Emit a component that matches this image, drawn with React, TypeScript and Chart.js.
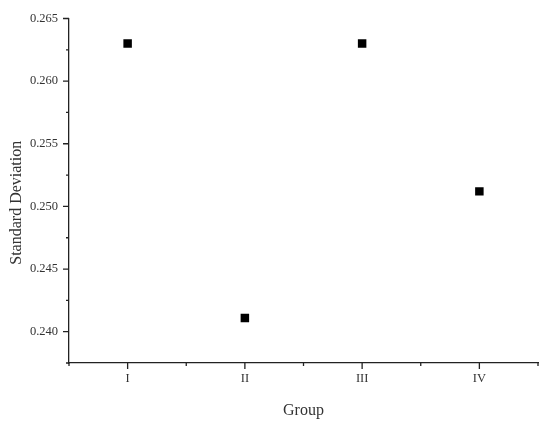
import React, { useEffect, useRef } from "react";
import { Chart, registerables } from "chart.js";

Chart.register(...registerables);

const categories = ["I", "II", "III", "IV"];
const stdDev = [0.263, 0.2411, 0.263, 0.2512];
const yMajorTicks = [0.24, 0.245, 0.25, 0.255, 0.26, 0.265];
const yMinorTicks = [0.2375, 0.2425, 0.2475, 0.2525, 0.2575, 0.2625];
const xMajorTicks = [1, 2, 3, 4];
const xMinorTicks = [0.5, 1.5, 2.5, 3.5, 4.5];
const xRange = [0.5, 4.5];
const yRange = [0.2375, 0.265];
const xTitle = "Group";
const yTitle = "Standard Deviation";

const FONT = "'Liberation Serif', 'DejaVu Serif', serif";
const AXIS_COLOR = "#222";
const TEXT_COLOR = "#333";

const tickPlugin = {
  id: "customTicks",
  afterDraw(chart: any) {
    const { ctx, chartArea, scales } = chart;
    const xs = scales.x;
    const ys = scales.y;
    ctx.save();
    ctx.strokeStyle = AXIS_COLOR;
    ctx.lineWidth = 1.3;
    ctx.beginPath();
    yMajorTicks.forEach((v) => {
      const p = ys.getPixelForValue(v);
      ctx.moveTo(chartArea.left - 6, p);
      ctx.lineTo(chartArea.left, p);
    });
    yMinorTicks.forEach((v) => {
      const p = ys.getPixelForValue(v);
      ctx.moveTo(chartArea.left - 3, p);
      ctx.lineTo(chartArea.left, p);
    });
    xMajorTicks.forEach((v) => {
      const p = xs.getPixelForValue(v);
      ctx.moveTo(p, chartArea.bottom);
      ctx.lineTo(p, chartArea.bottom + 6);
    });
    xMinorTicks.forEach((v) => {
      const p = xs.getPixelForValue(v);
      ctx.moveTo(p, chartArea.bottom);
      ctx.lineTo(p, chartArea.bottom + 3);
    });
    ctx.stroke();

    // y axis title (slightly below axis centre, as in the reference)
    ctx.fillStyle = TEXT_COLOR;
    ctx.font = `16px ${FONT}`;
    ctx.textAlign = "center";
    ctx.textBaseline = "middle";
    ctx.translate(17, (chartArea.top + chartArea.bottom) / 2 + 12);
    ctx.rotate(-Math.PI / 2);
    ctx.fillText(yTitle, 0, 0);
    ctx.restore();
  },
};

export default function App() {
  const ref = useRef<HTMLCanvasElement | null>(null);

  useEffect(() => {
    if (!ref.current) return;
    const chart = new Chart(ref.current, {
      type: "scatter",
      data: {
        datasets: [
          {
            data: stdDev.map((v, i) => ({ x: i + 1, y: v })),
            pointStyle: "rect",
            pointRadius: 6,
            pointBorderWidth: 0,
            backgroundColor: "#000",
            borderColor: "#000",
          },
        ],
      },
      options: {
        animation: false,
        responsive: true,
        maintainAspectRatio: false,
        layout: { padding: { top: 17, right: 12, left: 0, bottom: 0 } },
        plugins: { legend: { display: false }, tooltip: { enabled: false } },
        scales: {
          x: {
            type: "linear",
            min: xRange[0],
            max: xRange[1],
            afterBuildTicks: (scale: any) => {
              scale.ticks = xMajorTicks.map((v) => ({ value: v }));
            },
            afterFit: (scale: any) => {
              scale.height = 62;
            },
            grid: { display: false, drawTicks: false },
            border: { display: true, color: AXIS_COLOR, width: 1.3 },
            ticks: {
              padding: 8,
              color: TEXT_COLOR,
              font: { family: FONT, size: 12.5 },
              maxRotation: 0,
              callback: (v: any) => categories[Math.round(Number(v)) - 1] ?? "",
            },
            title: {
              display: true,
              text: xTitle,
              color: TEXT_COLOR,
              font: { family: FONT, size: 16 },
              padding: { top: 5, bottom: 5 },
            },
          },
          y: {
            type: "linear",
            min: yRange[0],
            max: yRange[1],
            afterBuildTicks: (scale: any) => {
              scale.ticks = yMajorTicks.map((v) => ({ value: v }));
            },
            afterFit: (scale: any) => {
              scale.width = 69;
            },
            grid: { display: false, drawTicks: false },
            border: { display: true, color: AXIS_COLOR, width: 1.3 },
            ticks: {
              padding: 11,
              color: TEXT_COLOR,
              font: { family: FONT, size: 12.5 },
              callback: (v: any) => Number(v).toFixed(3),
            },
            title: { display: false },
          },
        },
      },
      plugins: [tickPlugin],
    });
    return () => chart.destroy();
  }, []);

  return (
    <div style={{ position: "fixed", left: 0, top: 0, width: 550, height: 425, background: "#fff" }}>
      <canvas ref={ref} />
    </div>
  );
}
